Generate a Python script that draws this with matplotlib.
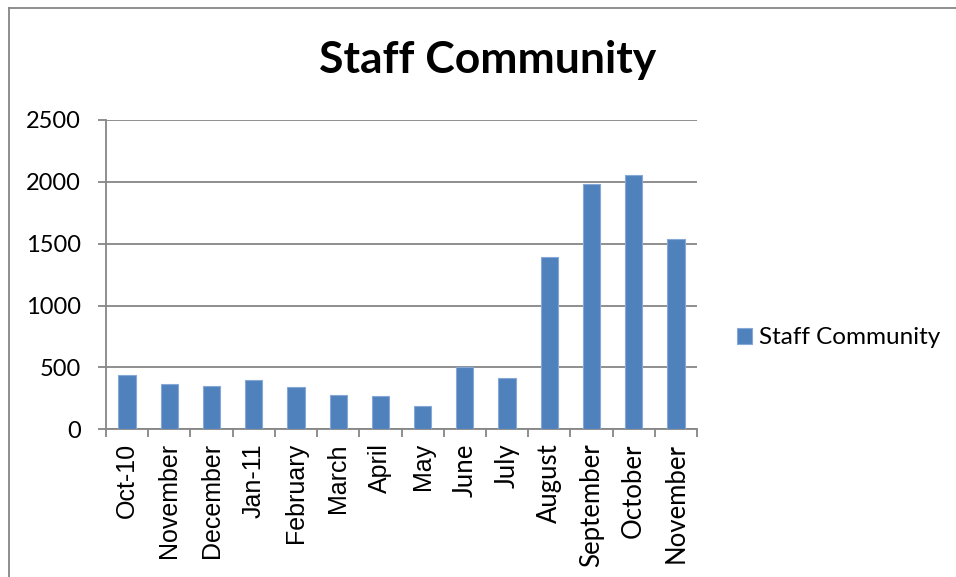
import matplotlib

matplotlib.use("Agg")
import matplotlib.pyplot as plt
from matplotlib.lines import Line2D
import numpy as np

months = ["Oct-10", "November", "December", "Jan-11", "February", "March", "April",
          "May", "June", "July", "August", "September", "October", "November"]
staff_community = [441, 365, 354, 395, 338, 276, 268, 189, 506, 412, 1392, 1981, 2052, 1537]
y_ticks = [0, 500, 1000, 1500, 2000, 2500]

BAR_BLUE = "#4F81BD"
GRID_GREY = "#868686"
W, H = 956, 577

fig = plt.figure(figsize=(W / 100, H / 100), dpi=100)
ax = fig.add_axes([106 / W, 1 - 429.3 / H, (697 - 106) / W, (429.3 - 120) / H])

x = np.arange(len(months))
ax.bar(x, staff_community, width=0.41, color=BAR_BLUE, edgecolor="#86a8d6",
       linewidth=0.8, zorder=3, label="Staff Community")

ax.set_xlim(-0.5, len(months) - 0.5)
ax.set_ylim(0, 2500)
ax.set_yticks(y_ticks)
ax.set_yticklabels([str(v) for v in y_ticks], family="Lato", fontsize=17)
ax.yaxis.grid(True, color=GRID_GREY, linewidth=1.3, zorder=0)
ax.tick_params(axis="y", length=6, width=1.3, color=GRID_GREY, pad=12)

# category labels sit under the bars, tick marks go between categories
ax.set_xticks(x)
ax.set_xticks(np.arange(-0.5, len(months)), minor=True)
ax.tick_params(axis="x", which="major", length=0, pad=10)
ax.tick_params(axis="x", which="minor", length=6, width=1.3, color=GRID_GREY)
ax.set_xticklabels(months, rotation=90, va="top", ha="center")
for i, lbl in enumerate(ax.get_xticklabels()):
    if i < 8:
        lbl.set_family("Liberation Sans")
        lbl.set_fontsize(18)
    else:
        lbl.set_family("Lato")
        lbl.set_fontsize(18.5)

for side in ("top", "right"):
    ax.spines[side].set_visible(False)
for side in ("left", "bottom"):
    ax.spines[side].set_color(GRID_GREY)
    ax.spines[side].set_linewidth(1.3)

fig.text(488 / W, 1 - 73 / H, "Staff Community", ha="center", va="baseline",
         family="Lato", fontweight="bold", fontsize=32)

fig.legend(loc="center left", bbox_to_anchor=(737 / W, 1 - 338 / H),
           frameon=False, prop={"family": "Lato", "size": 17.5},
           handlelength=0.62, handleheight=0.62, handletextpad=0.3,
           borderpad=0, borderaxespad=0)

# outer chart frame (only left and top edges fall inside the image)
fig.add_artist(Line2D([9 / W, 9 / W], [0, 1 - 8 / H], color=GRID_GREY, linewidth=1.3))
fig.add_artist(Line2D([9 / W, 1], [1 - 8 / H, 1 - 8 / H], color=GRID_GREY, linewidth=1.3))

fig.savefig("out.png", dpi=100)
